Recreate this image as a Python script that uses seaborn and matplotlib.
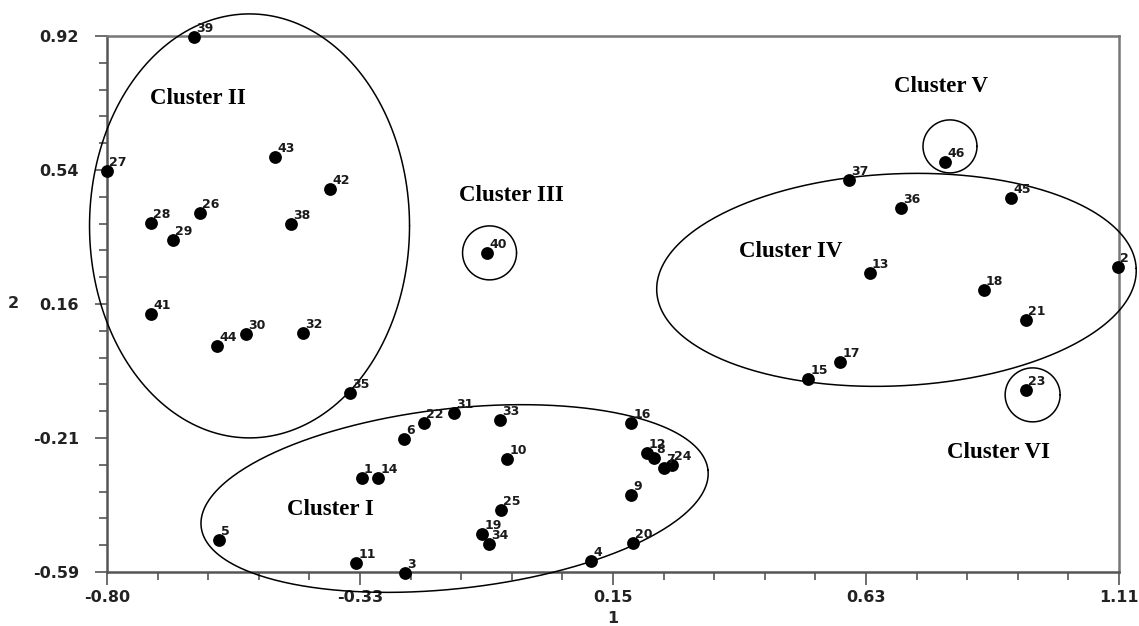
import numpy as np
import pandas as pd
import matplotlib
matplotlib.use("Agg")
import matplotlib.pyplot as plt
import seaborn as sns

# point coordinates (dimension 1, dimension 2)
point_ids = list(range(1, 47))
dim1 = [-0.319, 1.108, -0.238, 0.114, -0.589, -0.239, 0.251, 0.232, 0.189, -0.045,
        -0.330, 0.219, 0.640, -0.288, 0.523, 0.189, 0.584, 0.855, -0.092, 0.193,
        0.935, -0.202, 0.935, 0.266, -0.056, -0.624, -0.800, -0.717, -0.675, -0.538,
        -0.145, -0.430, -0.058, -0.079, -0.341, 0.699, 0.600, -0.453, -0.636, -0.083,
        -0.717, -0.379, -0.483, -0.592, 0.906, 0.782]
dim2 = [-0.325, 0.269, -0.593, -0.559, -0.500, -0.215, -0.297, -0.269, -0.373, -0.272,
        -0.565, -0.255, 0.252, -0.325, -0.046, -0.170, 0.002, 0.204, -0.483, -0.508,
        0.120, -0.170, -0.077, -0.288, -0.415, 0.421, 0.540, 0.393, 0.345, 0.081,
        -0.142, 0.083, -0.162, -0.511, -0.086, 0.435, 0.514, 0.390, 0.917, 0.309,
        0.137, 0.489, 0.579, 0.047, 0.464, 0.565]

x_tick_labels = ["-0.80", "-0.33", "0.15", "0.63", "1.11"]
y_tick_labels = ["-0.59", "-0.21", "0.16", "0.54", "0.92"]
x_min, x_max = -0.80, 1.11
y_min, y_max = -0.59, 0.92

# cluster outlines: name, centre (data), half-width px, half-height px, tilt deg
clusters = [
    ("Cluster I", (-0.144, -0.383), 255, 90, 6.4),
    ("Cluster II", (-0.531, 0.385), 160, 212, 0.0),
    ("Cluster III", (-0.078, 0.309), 27, 27, 0.0),
    ("Cluster IV", (0.690, 0.233), 240, 106, 2.75),
    ("Cluster V", (0.791, 0.609), 27, 26.5, 0.0),
    ("Cluster VI", (0.947, -0.091), 27.5, 27, 0.0),
]
cluster_label_pos = {
    "Cluster I": (-0.379, -0.415),
    "Cluster II": (-0.628, 0.745),
    "Cluster III": (-0.036, 0.472),
    "Cluster IV": (0.491, 0.312),
    "Cluster V": (0.774, 0.779),
    "Cluster VI": (0.882, -0.252),
}

df = pd.DataFrame({"id": point_ids, "d1": dim1, "d2": dim2})

sns.set_style("white")
plt.rcParams["font.family"] = ["DejaVu Sans"]

fig = plt.figure(figsize=(11.39, 6.26), dpi=100)
ax = fig.add_axes([107 / 1139, 1 - 572 / 626, 1012 / 1139, 536 / 626])

sns.scatterplot(data=df, x="d1", y="d2", ax=ax, color="black", s=85,
                edgecolor="black", linewidth=0, clip_on=False, zorder=5)

for pid, x, y in zip(df["id"], df["d1"], df["d2"]):
    ax.annotate(str(pid), (x, y), xytext=(1.5, 1.5), textcoords="offset points",
                ha="left", va="bottom", fontsize=9, fontweight="bold",
                color="#1a1a1a", annotation_clip=False, zorder=6)

ax.set_xlim(x_min, x_max)
ax.set_ylim(y_min, y_max)
ax.set_xticks(np.linspace(x_min, x_max, 5))
ax.set_xticklabels(x_tick_labels)
ax.set_yticks(np.linspace(y_min, y_max, 5))
ax.set_yticklabels(y_tick_labels)
ax.set_xticks(np.linspace(x_min, x_max, 21), minor=True)
ax.set_yticks(np.linspace(y_min, y_max, 21), minor=True)
ax.tick_params(which="major", direction="out", length=9, width=1.2, color="#555555",
               labelsize=11.5, labelcolor="#222222")
ax.tick_params(axis="x", which="major", pad=4)
ax.tick_params(axis="y", which="major", pad=11)
ax.tick_params(which="minor", direction="out", length=6, width=1.2, color="#555555")
ax.tick_params(axis="both", which="both", bottom=True, left=True)
for lab in ax.get_xticklabels() + ax.get_yticklabels():
    lab.set_fontweight("bold")

ax.set_xlabel("1", fontsize=11.5, fontweight="bold", labelpad=4)
ax.set_ylabel("2", fontsize=11.5, fontweight="bold", rotation=0, labelpad=14, va="center")

for side in ["top", "right", "left", "bottom"]:
    ax.spines[side].set_visible(True)
    ax.spines[side].set_linewidth(1.8)
    ax.spines[side].set_color("#777777")
ax.spines["left"].set_color("#555555")
ax.spines["bottom"].set_color("#555555")

# draw cluster outlines in pixel space, then map back to data
t = np.linspace(0, 2 * np.pi, 400)
to_disp = ax.transData
to_data = ax.transData.inverted()
for name, (cx, cy), a, b, ang in clusters:
    px, py = to_disp.transform((cx, cy))
    th = np.deg2rad(ang)
    ex = px + a * np.cos(t) * np.cos(th) - b * np.sin(t) * np.sin(th)
    ey = py + a * np.cos(t) * np.sin(th) + b * np.sin(t) * np.cos(th)
    pts = to_data.transform(np.column_stack([ex, ey]))
    ax.plot(pts[:, 0], pts[:, 1], color="black", lw=1.1, clip_on=False, zorder=4)
    lx, ly = cluster_label_pos[name]
    ax.text(lx, ly, name, ha="center", va="center", fontsize=16.5, fontweight="bold",
            family="Liberation Serif", color="black")

fig.savefig("out.png", dpi=100)
